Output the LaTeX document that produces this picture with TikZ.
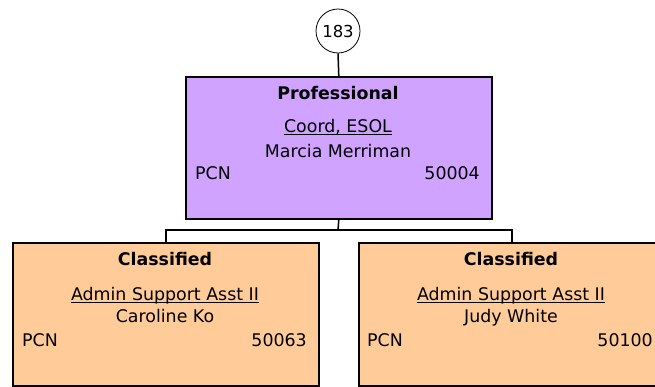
\documentclass[tikz,border=0pt]{standalone}
\usepackage{fontspec}
\setmainfont{DejaVu Sans}
\definecolor{profpurple}{RGB}{207,163,255}
\definecolor{classorange}{RGB}{255,204,153}
\begin{document}
\begin{tikzpicture}[x=1pt,y=-1pt,
  txt/.style={inner sep=0pt, anchor=base, font=\fontsize{17.4}{21}\selectfont},
  boldtxt/.style={txt, font=\fontsize{17.4}{21}\selectfont\bfseries},
  lefttxt/.style={txt, anchor=base west},
  righttxt/.style={txt, anchor=base east},
  box/.style={draw=black, line width=1.6pt, minimum width=306pt, minimum height=143pt, inner sep=0pt, anchor=north west},
  conn/.style={line width=1.5pt, draw=black},
  uline/.style={line width=0.9pt, draw=black}]
\useasboundingbox (0,0) rectangle (655,386);
\clip (0,0) rectangle (655,386);
% boxes
\node[box, fill=profpurple, minimum height=142pt] (top) at (185,76) {};
\node[box, fill=classorange] (left) at (12,242) {};
\node[box, fill=classorange] (right) at (358,242) {};
% number circle
\node[circle, draw=black, line width=0.8pt, fill=white, minimum size=44pt, inner sep=0pt,
      font=\fontsize{16.5}{19}\selectfont] (num) at (338,31) {183};
% connectors
\coordinate (hub) at (338,230);
\draw[conn] (num.south) -- (top.north);
\draw[conn] (top.south) -- (hub);
\draw[conn] (left.north) |- (hub) -| (right.north);
% top box text
\node[boldtxt] (tcat) at (338,99) {Professional};
\node[txt] (ttitle) at (338,132.5) {Coord, ESOL};
\draw[uline] ([yshift=-2pt]ttitle.base west) -- ([yshift=-2pt]ttitle.base east);
\node[txt] (tname) at (338,157) {Marcia Merriman};
\node[lefttxt] (tpcn) at (195,179) {PCN};
\node[righttxt] (tnum) at (480,179) {50004};
% left box text
\node[boldtxt] (lcat) at (165,265) {Classified};
\node[txt] (ltitle) at (165,300) {Admin Support Asst II};
\draw[uline] ([yshift=-2pt]ltitle.base west) -- ([yshift=-2pt]ltitle.base east);
\node[txt] (lname) at (165,322) {Caroline Ko};
\node[lefttxt] (lpcn) at (22,346) {PCN};
\node[righttxt] (lnum) at (307,346) {50063};
% right box text
\node[boldtxt] (rcat) at (511,265) {Classified};
\node[txt] (rtitle) at (511,300) {Admin Support Asst II};
\draw[uline] ([yshift=-2pt]rtitle.base west) -- ([yshift=-2pt]rtitle.base east);
\node[txt] (rname) at (511,322) {Judy White};
\node[lefttxt] (rpcn) at (367,346) {PCN};
\node[righttxt] (rnum) at (653,346) {50100};
\end{tikzpicture}
\end{document}
